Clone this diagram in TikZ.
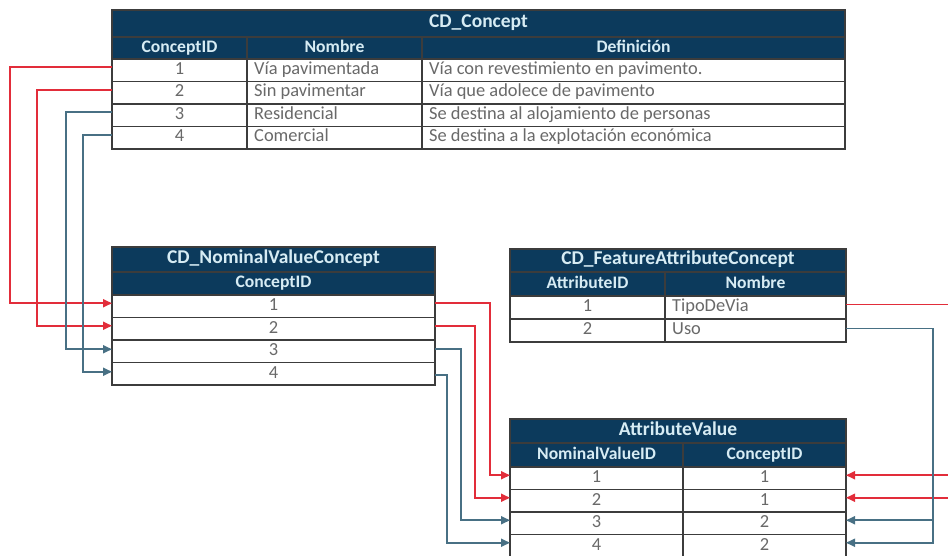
\documentclass[tikz,border=0pt]{standalone}
\usepackage{fontspec}
\setmainfont{Carlito}
\usetikzlibrary{arrows.meta}

\definecolor{navy}{RGB}{12,58,92}
\definecolor{headfg}{RGB}{215,236,244}
\definecolor{bodyfg}{RGB}{105,105,105}
\definecolor{gridcol}{RGB}{60,60,60}
\definecolor{linkred}{RGB}{226,45,58}
\definecolor{linkblue}{RGB}{72,112,132}

\tikzset{
  box/.style={draw=gridcol, line width=1.1pt, inner sep=0pt, outer sep=0pt, anchor=north west},
  headbox/.style={box, fill=navy},
  bodybox/.style={box, fill=white},
  headtxt/.style={text=headfg, font=\bfseries\fontsize{17.6}{19}\selectfont, inner sep=0pt, text height=11pt, text depth=2.5pt},
  titletxt/.style={headtxt, font=\bfseries\fontsize{19.5}{21}\selectfont},
  bodytxt/.style={text=bodyfg, font=\fontsize{18.4}{20}\selectfont, inner sep=0pt, text height=11pt, text depth=2.5pt},
  redlink/.style={draw=linkred, line width=1.7pt, -{Triangle[length=9pt,width=8pt]}},
  bluelink/.style={draw=linkblue, line width=1.7pt, -{Triangle[length=9pt,width=8pt]}},
}

% title cell: name, x, y, width, height, text (centred)
\newcommand\tc[6]{\node[headbox, minimum width=#4pt, minimum height=#5pt] (#1) at (#2,#3) {};
  \node[titletxt] (#1t) at (#1.center) {#6};}
% header cell, centred text
\newcommand\hc[6]{\node[headbox, minimum width=#4pt, minimum height=#5pt] (#1) at (#2,#3) {};
  \node[headtxt] (#1t) at (#1.center) {#6};}
% body cell, centred text
\newcommand\bc[6]{\node[bodybox, minimum width=#4pt, minimum height=#5pt] (#1) at (#2,#3) {};
  \node[bodytxt] (#1t) at (#1.center) {#6};}
% body cell, left-aligned text
\newcommand\bl[6]{\node[bodybox, minimum width=#4pt, minimum height=#5pt] (#1) at (#2,#3) {};
  \node[bodytxt, anchor=west] (#1t) at ([xshift=7pt]#1.west) {#6};}

\begin{document}
\begin{tikzpicture}[x=1pt, y=-1pt]
\useasboundingbox (0,0) rectangle (948,556);

% ---- CD_Concept ----
\tc{ct}{112}{10}{733}{27}{CD\_Concept}
\hc{ch1}{112}{37}{135}{22}{ConceptID}
\hc{ch2}{247}{37}{175}{22}{Nombre}
\hc{ch3}{422}{37}{423}{22}{Definición}
\bc{c1a}{112}{59}{135}{22.5}{1}
\bl{c1b}{247}{59}{175}{22.5}{Vía pavimentada}
\bl{c1c}{422}{59}{423}{22.5}{Vía con revestimiento en pavimento.}
\bc{c2a}{112}{81.5}{135}{22.5}{2}
\bl{c2b}{247}{81.5}{175}{22.5}{Sin pavimentar}
\bl{c2c}{422}{81.5}{423}{22.5}{Vía que adolece de pavimento}
\bc{c3a}{112}{104}{135}{22.5}{3}
\bl{c3b}{247}{104}{175}{22.5}{Residencial}
\bl{c3c}{422}{104}{423}{22.5}{Se destina al alojamiento de personas}
\bc{c4a}{112}{126.5}{135}{22.5}{4}
\bl{c4b}{247}{126.5}{175}{22.5}{Comercial}
\bl{c4c}{422}{126.5}{423}{22.5}{Se destina a la explotación económica}

% ---- CD_NominalValueConcept ----
\tc{nt}{112}{247}{323}{25}{CD\_NominalValueConcept}
\hc{nh}{112}{272}{323}{23}{ConceptID}
\bc{n1}{112}{295}{323}{22.5}{1}
\bc{n2}{112}{317.5}{323}{22.5}{2}
\bc{n3}{112}{340}{323}{22.5}{3}
\bc{n4}{112}{362.5}{323}{22.5}{4}

% ---- CD_FeatureAttributeConcept ----
\tc{ft}{510}{249}{336}{23}{CD\_FeatureAttributeConcept}
\hc{fh1}{510}{272}{155}{24}{AttributeID}
\hc{fh2}{665}{272}{181}{24}{Nombre}
\bc{f1a}{510}{296}{155}{23}{1}
\bl{f1b}{665}{296}{181}{23}{TipoDeVia}
\bc{f2a}{510}{319}{155}{23}{2}
\bl{f2b}{665}{319}{181}{23}{Uso}

% ---- AttributeValue ----
\tc{at}{510}{419}{336}{24}{AttributeValue}
\hc{ah1}{510}{443}{173}{24}{NominalValueID}
\hc{ah2}{683}{443}{163}{24}{ConceptID}
\bc{a1a}{510}{467}{173}{22.5}{1}
\bc{a1b}{683}{467}{163}{22.5}{1}
\bc{a2a}{510}{489.5}{173}{22.5}{2}
\bc{a2b}{683}{489.5}{163}{22.5}{1}
\bc{a3a}{510}{512}{173}{22.5}{3}
\bc{a3b}{683}{512}{163}{22.5}{2}
\bc{a4a}{510}{534.5}{173}{22.5}{4}
\bc{a4b}{683}{534.5}{163}{22.5}{2}

% ---- links: CD_Concept -> CD_NominalValueConcept ----
\draw[redlink]  ([yshift=3pt]c1a.west) -- ++(-102,0) |- ([yshift=3pt]n1.west);
\draw[redlink]  ([yshift=3pt]c2a.west) -- ++(-75,0)  |- ([yshift=3pt]n2.west);
\draw[bluelink] ([yshift=3pt]c3a.west) -- ++(-46,0)  |- ([yshift=2pt]n3.west);
\draw[bluelink] ([yshift=3pt]c4a.west) -- ++(-29,0)  |- ([yshift=2pt]n4.west);

% ---- links: CD_NominalValueConcept -> AttributeValue ----
\draw[redlink]  ([yshift=3pt]n1.east) -- ++(55,0) |- ([yshift=3pt]a1a.west);
\draw[redlink]  ([yshift=3pt]n2.east) -- ++(40,0) |- ([yshift=3pt]a2a.west);
\draw[bluelink] ([yshift=2pt]n3.east) -- ++(26,0) |- ([yshift=3pt]a3a.west);
\draw[bluelink] ([yshift=-1pt]n4.east) -- ++(12,0) |- ([yshift=3pt]a4a.west);

% ---- links: CD_FeatureAttributeConcept -> AttributeValue ----
\draw[redlink]  ([yshift=3pt]f1b.east) -- ++(130,0) |- ([yshift=3pt]a1b.east);
\draw[redlink]  ([yshift=3pt]f1b.east) -- ++(130,0) |- ([yshift=3pt]a2b.east);
\draw[bluelink] ([yshift=2pt]f2b.east) -- ++(87,0) |- ([yshift=3pt]a3b.east);
\draw[bluelink] ([yshift=2pt]f2b.east) -- ++(87,0) |- ([yshift=3pt]a4b.east);
\end{tikzpicture}
\end{document}
